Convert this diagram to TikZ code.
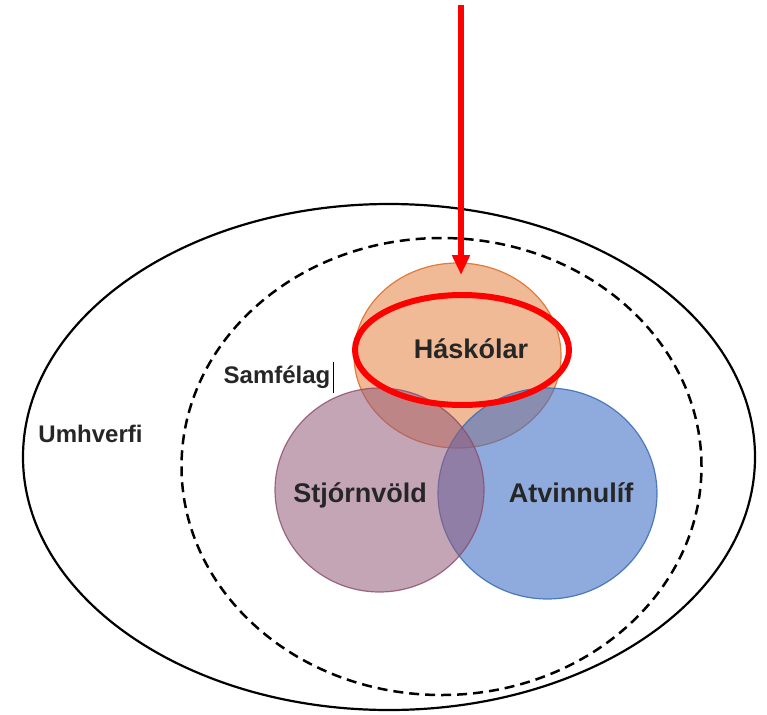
\documentclass[tikz,border=0pt]{standalone}
\usepackage{fontspec}
\setmainfont{Liberation Sans}
\usetikzlibrary{shapes.geometric,arrows.meta}
\definecolor{hask}{RGB}{225,117,45}
\definecolor{haskline}{HTML}{E07B3C}
\definecolor{stjorn}{RGB}{148,91,122}
\definecolor{stjornline}{HTML}{8B4A6B}
\definecolor{atv}{HTML}{4472C4}
\definecolor{atvline}{HTML}{3E70B8}
\definecolor{txt}{HTML}{262626}
\tikzset{
  setcircle/.style={ellipse, inner sep=0pt, line width=1.2pt},
  biglabel/.style={anchor=base, font=\bfseries\fontsize{27}{27}\selectfont, text=txt, inner sep=0pt},
  smalllabel/.style={anchor=base, font=\bfseries\fontsize{24}{24}\selectfont, text=txt, inner sep=0pt},
}
\begin{document}
\begin{tikzpicture}[x=1pt,y=-1pt]
\useasboundingbox (0,0) rectangle (767,714);
% outer environment
\node[ellipse, draw=black, line width=2.2pt, minimum width=732pt, minimum height=506pt, inner sep=0pt] (umh) at (389,457) {};
% society (dashed)
\node[ellipse, draw=black, line width=2.5pt, dash pattern=on 10pt off 6pt, minimum width=520pt, minimum height=457pt, inner sep=0pt] (samf) at (441.5,466.5) {};
% three sets
\node[setcircle, fill=hask, fill opacity=0.5, draw=haskline, minimum width=207pt, minimum height=185pt] (hask) at (457.5,355.5) {};
\node[setcircle, fill=atv, fill opacity=0.6, draw=atvline, draw opacity=0.9, minimum width=219pt, minimum height=211pt] (atv) at (547.5,493.5) {};
\node[setcircle, fill=stjorn, fill opacity=0.55, draw=stjornline, draw opacity=0.8, minimum width=209pt, minimum height=204pt] (stj) at (379.5,490) {};
% labels
\node[biglabel] (lhask) at (471,358) {Háskólar};
\node[biglabel] (lstj) at (360,502) {Stjórnvöld};
\node[biglabel] (latv) at (571,502) {Atvinnulíf};
\node[smalllabel] (lsamf) at (277,383) {Samfélag};
\node[smalllabel] (lumh) at (90.5,442) {Umhverfi};
% text caret
\coordinate (caretA) at (333,362);
\coordinate (caretB) at (333,393);
\draw[line width=0.8pt, black] (caretA) -- (caretB);
% red highlight
\node[ellipse, draw=red, line width=6pt, minimum width=214pt, minimum height=110pt, inner sep=0pt] (redring) at (462,350) {};
\coordinate (arrowstart) at (461,5);
\coordinate (arrowtip) at (461,275);
\draw[red, line width=6pt, -{Triangle[length=20pt, width=17pt]}] (arrowstart) -- (arrowtip);
\end{tikzpicture}
\end{document}
